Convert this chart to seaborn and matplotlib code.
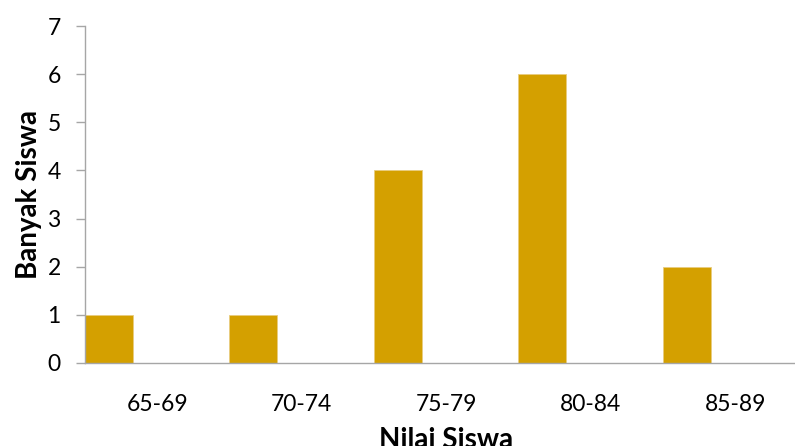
import matplotlib
matplotlib.use("Agg")
import matplotlib.pyplot as plt
import seaborn as sns
import pandas as pd

categories = ["65-69", "70-74", "75-79", "80-84", "85-89"]
counts = [1, 1, 4, 6, 2]
y_ticks = [0, 1, 2, 3, 4, 5, 6, 7]

bar_color = "#D4A000"
axis_color = "#A6A6A6"

sns.set_theme(style="white")
plt.rcParams["font.family"] = ["Lato", "DejaVu Sans"]
plt.rcParams["text.color"] = "black"
plt.rcParams["axes.labelcolor"] = "black"

df = pd.DataFrame({"Nilai Siswa": categories, "Banyak Siswa": counts})

fig = plt.figure(figsize=(7.95, 4.46), dpi=100)
ax = fig.add_axes([0.1069, 0.1861, 0.9088, 0.7556])

bar_w = 0.332
sns.barplot(data=df, x="Nilai Siswa", y="Banyak Siswa", color=bar_color,
            width=bar_w, saturation=1, edgecolor="#E8CC80", linewidth=0.6, ax=ax)

# place each bar at the left edge of its category band
shift = 0.5 - bar_w / 2
for p in ax.patches:
    p.set_x(p.get_x() - shift)

ax.set_xlim(-0.5, len(categories) - 0.5)
ax.set_ylim(0, 7)
ax.set_yticks(y_ticks)
ax.set_yticklabels([str(v) for v in y_ticks])

for s in ["top", "right"]:
    ax.spines[s].set_visible(False)
for s in ["left", "bottom"]:
    ax.spines[s].set_color(axis_color)
    ax.spines[s].set_linewidth(1.0)

ax.tick_params(axis="y", which="major", left=True, length=6.5, width=1.0,
               color=axis_color, labelsize=16.5, labelcolor="black", pad=11)
ax.tick_params(axis="x", which="major", bottom=False, labelsize=16.5,
               labelcolor="black", pad=16)

ax.set_ylabel("Banyak Siswa", fontsize=20, fontweight="bold", labelpad=4)
ax.set_xlabel("Nilai Siswa", fontsize=20, fontweight="bold", labelpad=9)

fig.savefig("out.png", dpi=100)
